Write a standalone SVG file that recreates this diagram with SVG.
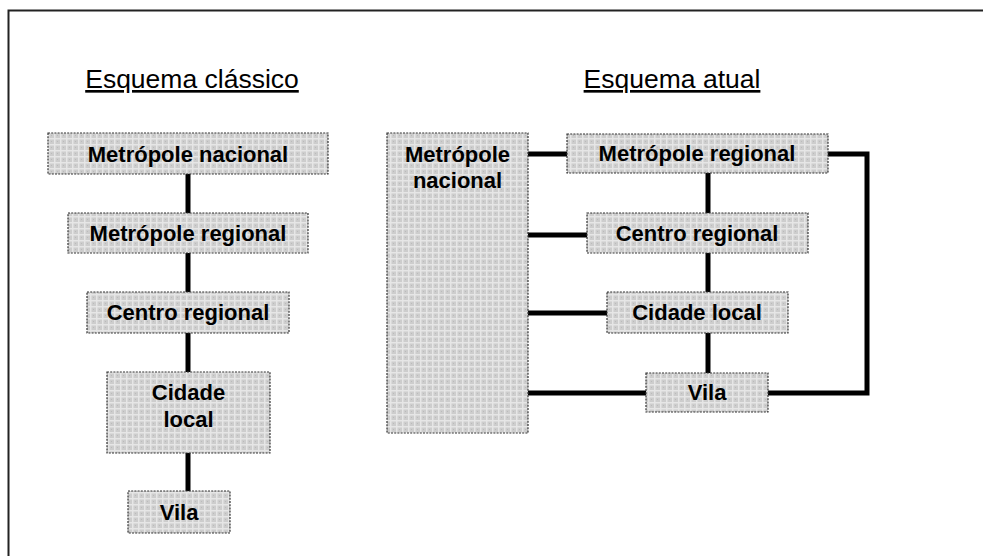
<svg xmlns="http://www.w3.org/2000/svg" width="983" height="556" viewBox="0 0 983 556">
<style>
.box{fill:url(#grid);stroke:#333;stroke-width:1.2;stroke-dasharray:2 1.2}
.lbl{font-family:"Liberation Sans",Arial,sans-serif;font-weight:bold;font-size:22px;fill:#000;text-anchor:middle}
.ttl{font-family:"Liberation Sans",Arial,sans-serif;font-size:26.5px;fill:#000;text-anchor:middle;text-decoration:underline}
.con{fill:none;stroke:#000;stroke-width:5}
</style>
<defs>
<pattern id="grid" width="6" height="6" patternUnits="userSpaceOnUse">
<rect width="6" height="6" fill="#cdcdcd"/>
<rect x="0" y="0" width="6" height="1.5" fill="#e6e6e6"/>
<rect x="0" y="0" width="1.5" height="6" fill="#e6e6e6"/>
<rect x="3" y="3" width="1" height="1" fill="#bbbbbb"/>
</pattern>
</defs>
<rect width="983" height="556" fill="#fff"/>
<path d="M8.5 556 V10.5 H983" fill="none" stroke="#222" stroke-width="2"/>
<text class="ttl" x="192" y="88">Esquema clássico</text>
<text class="ttl" x="672" y="88">Esquema atual</text>
<g id="connectors">
<line class="con" x1="188" y1="174" x2="188" y2="213"/>
<line class="con" x1="188" y1="253" x2="188" y2="292"/>
<line class="con" x1="188" y1="333" x2="188" y2="372"/>
<line class="con" x1="188" y1="453" x2="188" y2="491"/>
<line class="con" x1="708" y1="173" x2="708" y2="213"/>
<line class="con" x1="708" y1="253" x2="708" y2="292"/>
<line class="con" x1="708" y1="333" x2="708" y2="373"/>
<line class="con" x1="528" y1="154" x2="567" y2="154"/>
<line class="con" x1="528" y1="235" x2="587" y2="235"/>
<line class="con" x1="528" y1="313" x2="607" y2="313"/>
<line class="con" x1="528" y1="393" x2="646" y2="393"/>
<path class="con" d="M828 154 H867 V393 H768"/>
</g>
<g id="c-metropole-nacional">
<rect class="box" x="48" y="133" width="280" height="41"/>
<text class="lbl" x="188" y="162">Metrópole nacional</text>
</g>
<g id="c-metropole-regional">
<rect class="box" x="68" y="213" width="240" height="40"/>
<text class="lbl" x="188" y="241">Metrópole regional</text>
</g>
<g id="c-centro-regional">
<rect class="box" x="87" y="292" width="202" height="41"/>
<text class="lbl" x="188" y="320">Centro regional</text>
</g>
<g id="c-cidade-local">
<rect class="box" x="107" y="372" width="163" height="81"/>
<text class="lbl" x="188.5" y="400">Cidade</text>
<text class="lbl" x="188.5" y="426.5">local</text>
</g>
<g id="c-vila">
<rect class="box" x="128" y="491" width="102" height="42"/>
<text class="lbl" x="179" y="520">Vila</text>
</g>
<g id="a-metropole-nacional">
<rect class="box" x="387" y="133" width="141" height="300"/>
<text class="lbl" x="457.5" y="161.5">Metrópole</text>
<text class="lbl" x="457.5" y="188">nacional</text>
</g>
<g id="a-metropole-regional">
<rect class="box" x="567" y="134" width="261" height="39"/>
<text class="lbl" x="697" y="161">Metrópole regional</text>
</g>
<g id="a-centro-regional">
<rect class="box" x="587" y="213" width="221" height="40"/>
<text class="lbl" x="697" y="241">Centro regional</text>
</g>
<g id="a-cidade-local">
<rect class="box" x="607" y="292" width="181" height="41"/>
<text class="lbl" x="697" y="320">Cidade local</text>
</g>
<g id="a-vila">
<rect class="box" x="646" y="373" width="122" height="39"/>
<text class="lbl" x="707" y="400">Vila</text>
</g>
</svg>
